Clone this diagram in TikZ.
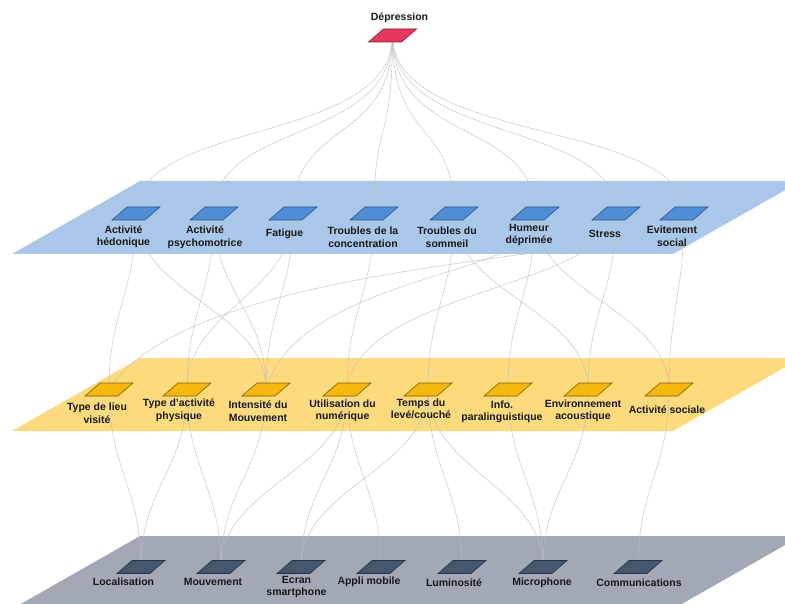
\documentclass[tikz,border=0pt]{standalone}
\usepackage{fontspec}
\setmainfont{Liberation Sans}
\usetikzlibrary{calc}
\definecolor{plblue}{HTML}{A9C8E9}
\definecolor{plyel}{HTML}{FDDA7C}
\definecolor{plgray}{HTML}{A2A9B5}
\definecolor{mkblue}{HTML}{4F8DD6}
\definecolor{mkblueb}{HTML}{2B5688}
\definecolor{mkyel}{HTML}{F5B90E}
\definecolor{mkyelb}{HTML}{7F5E00}
\definecolor{mkgray}{HTML}{46566C}
\definecolor{mkgrayb}{HTML}{27334A}
\definecolor{mkred}{HTML}{E8375C}
\definecolor{mkredb}{HTML}{7D1D31}
\newcommand\mkdraw[2]{\filldraw[#2] ($(#1)+(-9,-6.5)$) -- ++(33,0) -- ++(-15,13) -- ++(-33,0) -- cycle;}
\newcommand\edg[3][80]{\draw[edgeline] (#2) .. controls ($(#2)+(0,#1)$) and ($(#3)+(0,-#1)$) .. (#3);}
\begin{document}
\begin{tikzpicture}[x=1pt,y=-1pt,
  lbl/.style={font=\fontsize{10.5}{12.5}\selectfont\bfseries, align=center, inner sep=0pt, text=black!90},
  edgeline/.style={draw=black!25, line width=0.55pt, opacity=0.8},
  bmk/.style={fill=mkblue, draw=mkblueb, line width=0.6pt},
  ymk/.style={fill=mkyel, draw=mkyelb, line width=0.6pt},
  gmk/.style={fill=mkgray, draw=mkgrayb, line width=0.6pt},
  rmk/.style={fill=mkred, draw=mkredb, line width=0.6pt}]
\useasboundingbox (0,0) rectangle (785,604);
\clip (0,0) rectangle (785,604);
\fill[white] (0,0) rectangle (785,604);
% planes
\fill[plblue] (140,181) -- (801,181) -- (673,254) -- (12,254) -- cycle;
\fill[plyel] (140,358) -- (801,358) -- (673,431) -- (12,431) -- cycle;
\fill[plgray] (140,536) -- (801,536) -- (673,609) -- (12,609) -- cycle;
% marker positions
\coordinate (dep) at (392.5,35.5);
\coordinate (hed) at (136,213.5);
\coordinate (psy) at (214,213.5);
\coordinate (fat) at (293,213.5);
\coordinate (conc) at (374,213.5);
\coordinate (som) at (454,213.5);
\coordinate (hum) at (535,213.5);
\coordinate (str) at (616,213.5);
\coordinate (evit) at (684,213.5);
\coordinate (lieu) at (109,389.5);
\coordinate (tact) at (187,389.5);
\coordinate (intm) at (266,389.5);
\coordinate (util) at (347,389.5);
\coordinate (temps) at (428,389.5);
\coordinate (info) at (508,389.5);
\coordinate (env) at (588,389.5);
\coordinate (soc) at (669,389.5);
\coordinate (loc) at (141,567);
\coordinate (mouv) at (221,567);
\coordinate (ecran) at (301,567);
\coordinate (appli) at (381,567);
\coordinate (lum) at (462,567);
\coordinate (micro) at (543,567);
\coordinate (comm) at (638,567);
% depression -> symptoms
\foreach \b in {hed,psy,fat,conc,som,hum,str,evit}
  \draw[edgeline] (dep) .. controls ($(dep)+(0,110)$) and ($(\b)+(0,-95)$) .. (\b);
% symptoms -> behaviours
\edg{hed}{lieu}
\edg{hed}{intm}
\edg{psy}{tact}
\edg{psy}{intm}
\edg{fat}{intm}
\edg{fat}{tact}
\edg{conc}{util}
\edg{som}{temps}
\edg{som}{env}
\edg{hum}{info}
\edg{hum}{soc}
\edg{str}{env}
\edg{evit}{soc}
\draw[edgeline] (evit) .. controls (684,262) and (200,250) .. (lieu);
\draw[edgeline] (hum) .. controls (560,275) and (300,270) .. (intm);
\draw[edgeline] (str) .. controls (600,290) and (360,290) .. (util);
% behaviours -> sensors
\edg{lieu}{loc}
\edg{tact}{loc}
\edg{tact}{mouv}
\edg{intm}{mouv}
\edg{util}{ecran}
\edg{util}{appli}
\edg{util}{mouv}
\edg{temps}{ecran}
\edg{temps}{lum}
\edg{temps}{micro}
\edg{info}{micro}
\edg{env}{micro}
\edg{soc}{comm}
% markers
\mkdraw{dep}{rmk}
\foreach \b in {hed,psy,fat,conc,som,hum,str,evit} {\mkdraw{\b}{bmk}}
\foreach \b in {lieu,tact,intm,util,temps,info,env,soc} {\mkdraw{\b}{ymk}}
\foreach \b in {loc,mouv,ecran,appli,lum,micro,comm} {\mkdraw{\b}{gmk}}
% labels
\node[lbl] (tdep) at (399.5,18) {Dépression};
\node[lbl] (thed) at (123.5,236.5) {Activité\\hédonique};
\node[lbl] (tpsy) at (205,237) {Activité\\psychomotrice};
\node[lbl] (tfat) at (284.5,233.5) {Fatigue};
\node[lbl] (tconc) at (363,237) {Troubles de la\\concentration};
\node[lbl] (tsom) at (447,237) {Troubles du\\sommeil};
\node[lbl] (thum) at (529,235) {Humeur\\déprimée};
\node[lbl] (tstr) at (605,233.5) {Stress};
\node[lbl] (tevit) at (672,236) {Evitement\\social};
\node[lbl] (tlieu) at (97,413) {Type de lieu\\visité};
\node[lbl] (ttact) at (179,410) {Type d’activité\\physique};
\node[lbl] (tintm) at (258,411) {Intensité du\\Mouvement};
\node[lbl] (tutil) at (342.5,411) {Utilisation du\\numérique};
\node[lbl] (ttemps) at (421,409) {Temps du\\levé/couché};
\node[lbl] (tinfo) at (502,412) {Info.\\paralinguistique};
\node[lbl] (tenv) at (583,411) {Environnement\\acoustique};
\node[lbl] (tsoc) at (667,409.5) {Activité sociale};
\node[lbl] (tloc) at (123.5,582) {Localisation};
\node[lbl] (tmouv) at (213,582) {Mouvement};
\node[lbl] (tecran) at (296.5,587) {Ecran\\smartphone};
\node[lbl] (tappli) at (369,581.5) {Appli mobile};
\node[lbl] (tlum) at (454,583) {Luminosité};
\node[lbl] (tmicro) at (542,583) {Microphone};
\node[lbl] (tcomm) at (639,583) {Communications};
\end{tikzpicture}
\end{document}
